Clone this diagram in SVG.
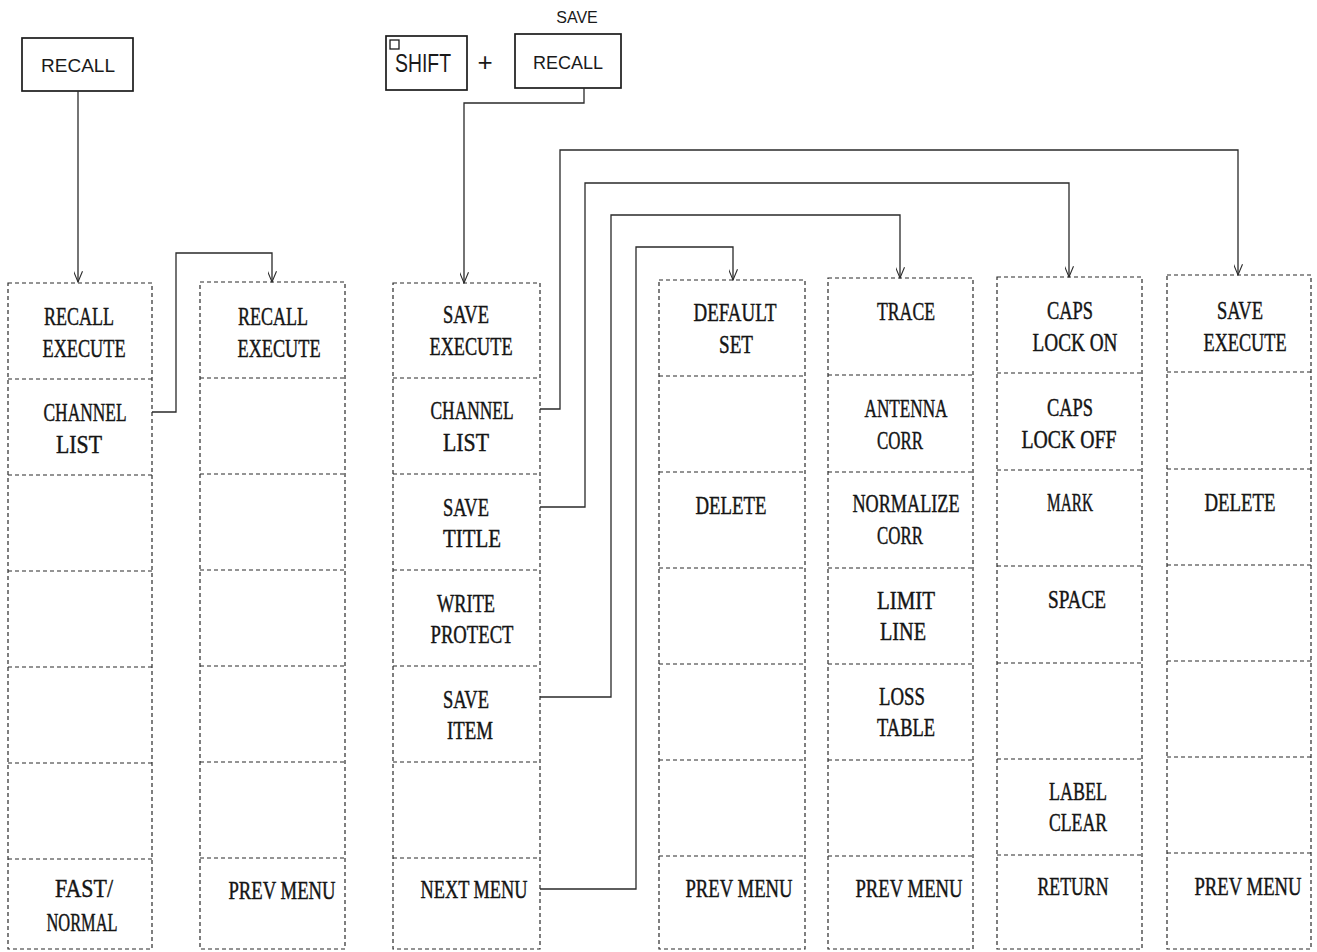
<svg xmlns="http://www.w3.org/2000/svg" width="1317" height="952" viewBox="0 0 1317 952">
<style>
.bg{fill:#fff}
.key{fill:none;stroke:#1a1a1a;stroke-width:1.7}
.keyt{font-family:"Liberation Sans","Open Sans",sans-serif;fill:#1a1a1a;text-anchor:middle}
.col{fill:none;stroke:#2a2a2a;stroke-width:1.2;stroke-dasharray:4 3}
.lbl{font-family:"Liberation Serif","DejaVu Serif",serif;font-size:26px;fill:#151515;stroke:#151515;stroke-width:0.45;text-anchor:middle}
.cn{fill:none;stroke:#2a2a2a;stroke-width:1.3}
</style>
<defs>
<marker id="ah" viewBox="0 0 12 10" refX="12" refY="5" markerWidth="12" markerHeight="9" orient="auto" markerUnits="userSpaceOnUse">
<path d="M0,0 L12,5 L0,10" fill="none" stroke="#2a2a2a" stroke-width="1.2"/>
</marker>
</defs>
<rect class="bg" x="0" y="0" width="1317" height="952"/>

<g id="key-recall">
<rect class="key" x="22" y="38" width="111" height="53"/>
<text class="keyt" x="78" y="72" style="font-size:19px">RECALL</text>
</g>
<g id="key-shift">
<rect class="key" x="386" y="36" width="81" height="54"/>
<rect x="390" y="40" width="9" height="9" fill="none" stroke="#1a1a1a" stroke-width="1.3"/>
<text class="keyt" x="423" y="72" style="font-size:25px" textLength="56" lengthAdjust="spacingAndGlyphs">SHIFT</text>
</g>
<g id="plus">
<text class="keyt" x="485" y="71" style="font-size:26px;font-weight:300">+</text>
</g>
<g id="key-save-recall">
<text class="keyt" x="577" y="23" style="font-size:16px">SAVE</text>
<rect class="key" x="515" y="34" width="106" height="54"/>
<text class="keyt" x="568" y="69" style="font-size:18px">RECALL</text>
</g>

<g id="connectors">
<path class="cn" d="M78,91 V282" marker-end="url(#ah)"/>
<path class="cn" d="M152,412 H176 V253 H272 V282" marker-end="url(#ah)"/>
<path class="cn" d="M584,88 V103 H464 V283" marker-end="url(#ah)"/>
<path class="cn" d="M540,409 H560 V150 H1238 V275" marker-end="url(#ah)"/>
<path class="cn" d="M540,507 H585 V183 H1069 V277" marker-end="url(#ah)"/>
<path class="cn" d="M540,697 H611 V215 H900 V278" marker-end="url(#ah)"/>
<path class="cn" d="M540,889 H636 V247 H733 V280" marker-end="url(#ah)"/>
</g>

<g id="menu-recall">
<rect class="col" x="8" y="283" width="144" height="666"/>
<path class="col" d="M8,379 H152 M8,475 H152 M8,571 H152 M8,667 H152 M8,763 H152 M8,859 H152"/>
<text class="lbl" transform="translate(79,325) scale(0.7,1)" textLength="100" lengthAdjust="spacingAndGlyphs">RECALL</text>
<text class="lbl" transform="translate(84,357) scale(0.7,1)" textLength="118.6" lengthAdjust="spacingAndGlyphs">EXECUTE</text>
<text class="lbl" transform="translate(85,421) scale(0.7,1)" textLength="118.6" lengthAdjust="spacingAndGlyphs">CHANNEL</text>
<text class="lbl" transform="translate(79,453) scale(0.7,1)" textLength="65.7" lengthAdjust="spacingAndGlyphs">LIST</text>
<text class="lbl" transform="translate(84,897) scale(0.7,1)" textLength="82.9" lengthAdjust="spacingAndGlyphs">FAST/</text>
<text class="lbl" transform="translate(82,931) scale(0.7,1)" textLength="101.4" lengthAdjust="spacingAndGlyphs">NORMAL</text>
</g>

<g id="menu-recall-list">
<rect class="col" x="200" y="282" width="145" height="667"/>
<path class="col" d="M200,378 H345 M200,474 H345 M200,570 H345 M200,666 H345 M200,762 H345 M200,858 H345"/>
<text class="lbl" transform="translate(273,325) scale(0.7,1)" textLength="100" lengthAdjust="spacingAndGlyphs">RECALL</text>
<text class="lbl" transform="translate(279,357) scale(0.7,1)" textLength="118.6" lengthAdjust="spacingAndGlyphs">EXECUTE</text>
<text class="lbl" transform="translate(282,899) scale(0.7,1)" textLength="152.9" lengthAdjust="spacingAndGlyphs">PREV MENU</text>
</g>

<g id="menu-save">
<rect class="col" x="393" y="283" width="147" height="666"/>
<path class="col" d="M393,378 H540 M393,474 H540 M393,570 H540 M393,666 H540 M393,762 H540 M393,858 H540"/>
<text class="lbl" transform="translate(466,323) scale(0.7,1)" textLength="65.7" lengthAdjust="spacingAndGlyphs">SAVE</text>
<text class="lbl" transform="translate(471,355) scale(0.7,1)" textLength="118.6" lengthAdjust="spacingAndGlyphs">EXECUTE</text>
<text class="lbl" transform="translate(472,419) scale(0.7,1)" textLength="118.6" lengthAdjust="spacingAndGlyphs">CHANNEL</text>
<text class="lbl" transform="translate(466,451) scale(0.7,1)" textLength="65.7" lengthAdjust="spacingAndGlyphs">LIST</text>
<text class="lbl" transform="translate(466,516) scale(0.7,1)" textLength="65.7" lengthAdjust="spacingAndGlyphs">SAVE</text>
<text class="lbl" transform="translate(472,547) scale(0.7,1)" textLength="82.9" lengthAdjust="spacingAndGlyphs">TITLE</text>
<text class="lbl" transform="translate(466,612) scale(0.7,1)" textLength="82.9" lengthAdjust="spacingAndGlyphs">WRITE</text>
<text class="lbl" transform="translate(472,643) scale(0.7,1)" textLength="118.6" lengthAdjust="spacingAndGlyphs">PROTECT</text>
<text class="lbl" transform="translate(466,708) scale(0.7,1)" textLength="65.7" lengthAdjust="spacingAndGlyphs">SAVE</text>
<text class="lbl" transform="translate(470,739) scale(0.7,1)" textLength="65.7" lengthAdjust="spacingAndGlyphs">ITEM</text>
<text class="lbl" transform="translate(474,898) scale(0.7,1)" textLength="152.9" lengthAdjust="spacingAndGlyphs">NEXT MENU</text>
</g>

<g id="menu-save-2">
<rect class="col" x="659" y="280" width="146" height="669"/>
<path class="col" d="M659,376 H805 M659,472 H805 M659,568 H805 M659,664 H805 M659,760 H805 M659,856 H805"/>
<text class="lbl" transform="translate(735,321) scale(0.7,1)" textLength="118.6" lengthAdjust="spacingAndGlyphs">DEFAULT</text>
<text class="lbl" transform="translate(736,353) scale(0.7,1)" textLength="48.6" lengthAdjust="spacingAndGlyphs">SET</text>
<text class="lbl" transform="translate(731,514) scale(0.7,1)" textLength="101.4" lengthAdjust="spacingAndGlyphs">DELETE</text>
<text class="lbl" transform="translate(739,897) scale(0.7,1)" textLength="152.9" lengthAdjust="spacingAndGlyphs">PREV MENU</text>
</g>

<g id="menu-save-item">
<rect class="col" x="828" y="278" width="145" height="671"/>
<path class="col" d="M828,375 H973 M828,472 H973 M828,568 H973 M828,664 H973 M828,760 H973 M828,856 H973"/>
<text class="lbl" transform="translate(906,320) scale(0.7,1)" textLength="82.9" lengthAdjust="spacingAndGlyphs">TRACE</text>
<text class="lbl" transform="translate(906,417) scale(0.7,1)" textLength="118.6" lengthAdjust="spacingAndGlyphs">ANTENNA</text>
<text class="lbl" transform="translate(900,449) scale(0.7,1)" textLength="65.7" lengthAdjust="spacingAndGlyphs">CORR</text>
<text class="lbl" transform="translate(906,512) scale(0.7,1)" textLength="152.9" lengthAdjust="spacingAndGlyphs">NORMALIZE</text>
<text class="lbl" transform="translate(900,544) scale(0.7,1)" textLength="65.7" lengthAdjust="spacingAndGlyphs">CORR</text>
<text class="lbl" transform="translate(906,609) scale(0.7,1)" textLength="82.9" lengthAdjust="spacingAndGlyphs">LIMIT</text>
<text class="lbl" transform="translate(903,640) scale(0.7,1)" textLength="65.7" lengthAdjust="spacingAndGlyphs">LINE</text>
<text class="lbl" transform="translate(902,705) scale(0.7,1)" textLength="65.7" lengthAdjust="spacingAndGlyphs">LOSS</text>
<text class="lbl" transform="translate(906,736) scale(0.7,1)" textLength="82.9" lengthAdjust="spacingAndGlyphs">TABLE</text>
<text class="lbl" transform="translate(909,897) scale(0.7,1)" textLength="152.9" lengthAdjust="spacingAndGlyphs">PREV MENU</text>
</g>

<g id="menu-save-title">
<rect class="col" x="997" y="277" width="145" height="672"/>
<path class="col" d="M997,373 H1142 M997,470 H1142 M997,566 H1142 M997,663 H1142 M997,759 H1142 M997,855 H1142"/>
<text class="lbl" transform="translate(1070,319) scale(0.7,1)" textLength="65.7" lengthAdjust="spacingAndGlyphs">CAPS</text>
<text class="lbl" transform="translate(1075,351) scale(0.7,1)" textLength="121.4" lengthAdjust="spacingAndGlyphs">LOCK ON</text>
<text class="lbl" transform="translate(1070,416) scale(0.7,1)" textLength="65.7" lengthAdjust="spacingAndGlyphs">CAPS</text>
<text class="lbl" transform="translate(1069,448) scale(0.7,1)" textLength="135.7" lengthAdjust="spacingAndGlyphs">LOCK OFF</text>
<text class="lbl" transform="translate(1070,511) scale(0.7,1)" textLength="65.7" lengthAdjust="spacingAndGlyphs">MARK</text>
<text class="lbl" transform="translate(1077,608) scale(0.7,1)" textLength="82.9" lengthAdjust="spacingAndGlyphs">SPACE</text>
<text class="lbl" transform="translate(1078,800) scale(0.7,1)" textLength="82.9" lengthAdjust="spacingAndGlyphs">LABEL</text>
<text class="lbl" transform="translate(1078,831) scale(0.7,1)" textLength="82.9" lengthAdjust="spacingAndGlyphs">CLEAR</text>
<text class="lbl" transform="translate(1073,895) scale(0.7,1)" textLength="101.4" lengthAdjust="spacingAndGlyphs">RETURN</text>
</g>

<g id="menu-channel-list">
<rect class="col" x="1167" y="275" width="144" height="674"/>
<path class="col" d="M1167,372 H1311 M1167,469 H1311 M1167,565 H1311 M1167,661 H1311 M1167,757 H1311 M1167,853 H1311"/>
<text class="lbl" transform="translate(1240,319) scale(0.7,1)" textLength="65.7" lengthAdjust="spacingAndGlyphs">SAVE</text>
<text class="lbl" transform="translate(1245,351) scale(0.7,1)" textLength="118.6" lengthAdjust="spacingAndGlyphs">EXECUTE</text>
<text class="lbl" transform="translate(1240,511) scale(0.7,1)" textLength="101.4" lengthAdjust="spacingAndGlyphs">DELETE</text>
<text class="lbl" transform="translate(1248,895) scale(0.7,1)" textLength="152.9" lengthAdjust="spacingAndGlyphs">PREV MENU</text>
</g>
</svg>
